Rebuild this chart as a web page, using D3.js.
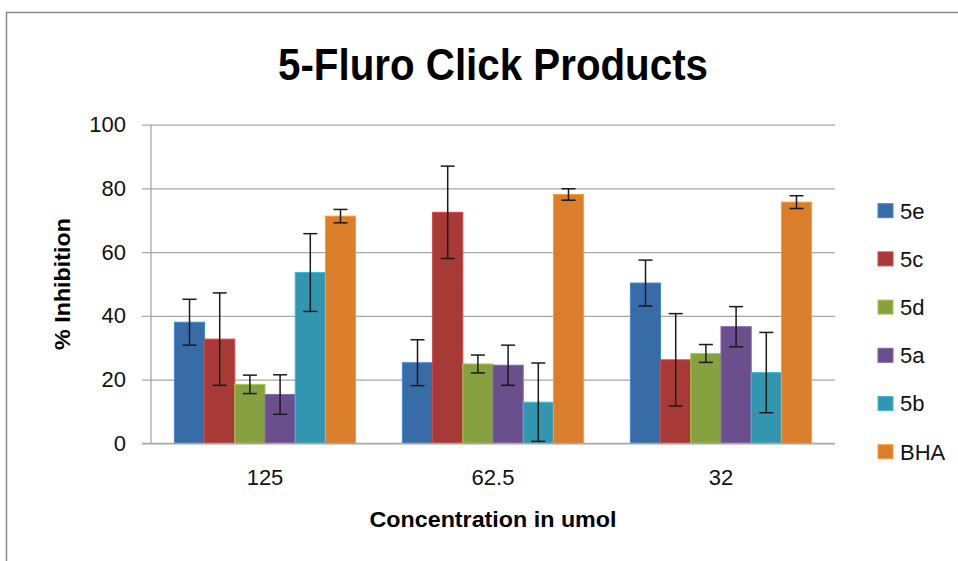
<!DOCTYPE html>
<html>
<head>
<meta charset="utf-8">
<script src="https://cdn.jsdelivr.net/npm/d3@7"></script>
<style>
  body { margin: 0; background: #fff; }
  svg { display: block; font-family: "Liberation Sans", Arial, sans-serif; }
</style>
</head>
<body>
<div id="chart"></div>
<script>
const width = 958;
const height = 561;

// data
const concentrations = ["125", "62.5", "32"];
const seriesNames = ["5e", "5c", "5d", "5a", "5b", "BHA"];
const seriesColors = ["#386ca6", "#a73a37", "#87a140", "#6b4e8c", "#3396b0", "#da7e2c"];

const val5e = [38.0, 25.3, 50.3];
const val5c = [32.7, 72.5, 26.2];
const val5d = [18.5, 24.9, 28.2];
const val5a = [15.3, 24.5, 36.6];
const val5b = [53.6, 12.9, 22.2];
const valBHA = [71.3, 78.1, 75.7];

const err5e = [7.2, 7.2, 7.2];
const err5c = [14.5, 14.5, 14.5];
const err5d = [2.9, 2.8, 2.8];
const err5a = [6.2, 6.3, 6.3];
const err5b = [12.2, 12.3, 12.6];
const errBHA = [2.1, 1.8, 2.0];

const yTicks = [0, 20, 40, 60, 80, 100];

const values = [val5e, val5c, val5d, val5a, val5b, valBHA];
const errors = [err5e, err5c, err5d, err5a, err5b, errBHA];

const bars = [];
seriesNames.forEach((s, i) => {
    concentrations.forEach((c, j) => {
        bars.push({ series: s, group: c, value: values[i][j], err: errors[i][j], color: seriesColors[i] });
    });
});

const plot = { left: 151, right: 835, top: 124.7, bottom: 443.3 };

const svg = d3.select("#chart")
    .append("svg")
    .attr("width", width)
    .attr("height", height);

// outer chart frame (runs off the picture to the right and bottom)
svg.append("rect")
    .attr("x", 6.5)
    .attr("y", 12.5)
    .attr("width", 1000)
    .attr("height", 600)
    .attr("fill", "none")
    .attr("stroke", "#8a8a8a")
    .attr("stroke-width", 1.5);

const x0 = d3.scaleBand()
    .domain(concentrations)
    .range([plot.left, plot.right]);

const x1 = d3.scaleBand()
    .domain(seriesNames)
    .range([0, x0.bandwidth()])
    .paddingInner(0)
    .paddingOuter(0.775);

const y = d3.scaleLinear()
    .domain([0, 100])
    .range([plot.bottom, plot.top]);

// gridlines + y ticks + labels
const gridW = plot.right - 142;
const yAxis = svg.append("g")
    .attr("transform", `translate(${plot.right},0)`)
    .call(d3.axisLeft(y).tickValues(yTicks).tickSize(gridW).tickPadding(plot.right - gridW - 126));

yAxis.select(".domain").remove();
yAxis.selectAll(".tick line")
    .attr("stroke", "#a6a6a6")
    .attr("stroke-width", 1.3);
yAxis.selectAll(".tick text")
    .attr("font-size", "22px")
    .attr("fill", "#111")
    .attr("font-family", "Liberation Sans, Arial, sans-serif");

// vertical axis line
svg.append("line")
    .attr("x1", plot.left).attr("x2", plot.left)
    .attr("y1", y(100)).attr("y2", y(0))
    .attr("stroke", "#a6a6a6")
    .attr("stroke-width", 1.3);

// bars
svg.append("g")
    .selectAll("rect")
    .data(bars)
    .join("rect")
    .attr("x", d => x0(d.group) + x1(d.series))
    .attr("y", d => y(d.value))
    .attr("width", x1.bandwidth())
    .attr("height", d => y(0) - y(d.value))
    .attr("fill", d => d.color)
    .attr("stroke", d => d3.color(d.color).brighter(0.6))
    .attr("stroke-width", 1);

// category axis line
svg.append("line")
    .attr("x1", 142).attr("x2", plot.right)
    .attr("y1", y(0)).attr("y2", y(0))
    .attr("stroke", "#a6a6a6")
    .attr("stroke-width", 1.3);

// error bars
const eb = svg.append("g")
    .attr("stroke", "#1a1a1a")
    .attr("stroke-width", 1.5);

const cx = d => x0(d.group) + x1(d.series) + x1.bandwidth() / 2;
const capW = 7;

eb.selectAll("line.stem")
    .data(bars)
    .join("line")
    .attr("class", "stem")
    .attr("x1", cx).attr("x2", cx)
    .attr("y1", d => y(d.value + d.err))
    .attr("y2", d => y(d.value - d.err));

eb.selectAll("line.top")
    .data(bars)
    .join("line")
    .attr("class", "top")
    .attr("x1", d => cx(d) - capW).attr("x2", d => cx(d) + capW)
    .attr("y1", d => y(d.value + d.err))
    .attr("y2", d => y(d.value + d.err));

eb.selectAll("line.bot")
    .data(bars)
    .join("line")
    .attr("class", "bot")
    .attr("x1", d => cx(d) - capW).attr("x2", d => cx(d) + capW)
    .attr("y1", d => y(d.value - d.err))
    .attr("y2", d => y(d.value - d.err));

// category labels
svg.append("g")
    .selectAll("text")
    .data(concentrations)
    .join("text")
    .attr("x", d => x0(d) + x0.bandwidth() / 2)
    .attr("y", 485)
    .attr("text-anchor", "middle")
    .attr("font-size", "22px")
    .attr("fill", "#111")
    .text(d => d);

// titles
svg.append("text")
    .attr("x", (plot.left + plot.right) / 2)
    .attr("y", 80)
    .attr("text-anchor", "middle")
    .attr("font-size", "44px")
    .attr("font-weight", "bold")
    .attr("textLength", 430)
    .attr("lengthAdjust", "spacingAndGlyphs")
    .text("5-Fluro Click Products");

svg.append("text")
    .attr("x", (plot.left + plot.right) / 2)
    .attr("y", 527)
    .attr("text-anchor", "middle")
    .attr("font-size", "22px")
    .attr("font-weight", "bold")
    .attr("textLength", 247)
    .attr("lengthAdjust", "spacingAndGlyphs")
    .text("Concentration in umol");

svg.append("text")
    .attr("transform", `translate(70,${(plot.top + plot.bottom) / 2})rotate(-90)`)
    .attr("text-anchor", "middle")
    .attr("font-size", "22px")
    .attr("font-weight", "bold")
    .attr("textLength", 132)
    .attr("lengthAdjust", "spacingAndGlyphs")
    .text("% Inhibition");

// legend
const legend = svg.append("g")
    .selectAll("g")
    .data(seriesNames)
    .join("g")
    .attr("transform", (d, i) => `translate(878,${210.7 + i * 48.2})`);

legend.append("rect")
    .attr("x", 0)
    .attr("y", -7)
    .attr("width", 15)
    .attr("height", 14)
    .attr("fill", (d, i) => seriesColors[i])
    .attr("stroke", (d, i) => d3.color(seriesColors[i]).brighter(0.6))
    .attr("stroke-width", 1);

legend.append("text")
    .attr("x", 22)
    .attr("y", 0)
    .attr("dy", "0.36em")
    .attr("font-size", "22px")
    .attr("fill", "#111")
    .text(d => d);
</script>
</body>
</html>
